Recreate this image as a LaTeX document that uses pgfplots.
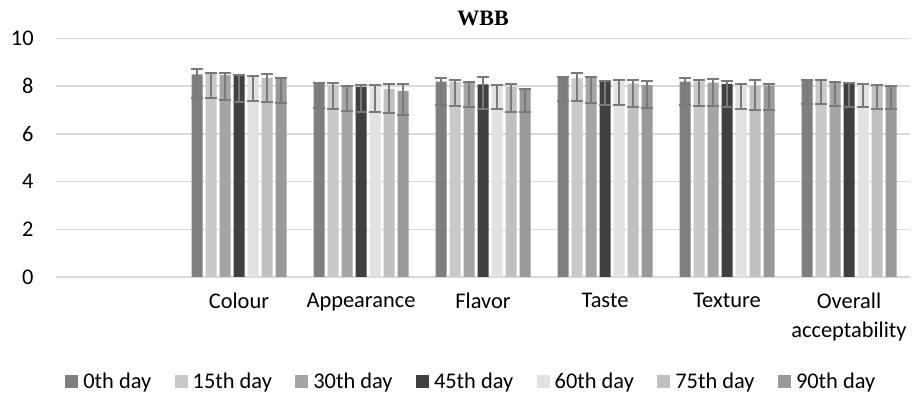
\documentclass[border=0pt]{standalone}
\usepackage{fontspec}
\setmainfont{Carlito}
\newfontfamily\titlefont{Liberation Serif}
\usepackage{pgfplots}
\usepackage{pgfplotstable}
\pgfplotsset{compat=1.18}
\definecolor{cA}{HTML}{7F7F7F}
\definecolor{cB}{HTML}{C9C9C9}
\definecolor{cC}{HTML}{A5A5A5}
\definecolor{cD}{HTML}{404040}
\definecolor{cE}{HTML}{E2E2E2}
\definecolor{cF}{HTML}{BFC1BF}
\definecolor{cG}{HTML}{999999}
\definecolor{errc}{HTML}{7A7A7A}
\definecolor{gridc}{HTML}{D9D9D9}
% x: 1 Colour, 2 Appearance, 3 Flavor, 4 Taste, 5 Texture, 6 Overall acceptability
\pgfplotstableread{
x y ep em
1 8.50 0.22 1.00
2 8.10 0.02 1.00
3 8.19 0.16 0.97
4 8.40 0.00 1.02
5 8.19 0.14 0.97
6 8.26 0.00 1.00
}\dA
\pgfplotstableread{
x y ep em
1 8.54 0.02 1.03
2 8.05 0.10 1.01
3 8.18 0.08 0.99
4 8.33 0.24 0.97
5 8.20 0.06 1.02
6 8.24 0.00 0.99
}\dB
\pgfplotstableread{
x y ep em
1 8.46 0.10 1.02
2 8.01 0.00 1.05
3 8.15 0.03 1.04
4 8.40 0.00 1.09
5 8.15 0.14 1.00
6 8.19 0.00 1.01
}\dC
\pgfplotstableread{
x y ep em
1 8.45 0.00 1.10
2 7.97 0.08 1.05
3 8.08 0.31 1.02
4 8.23 0.00 1.03
5 8.10 0.11 0.99
6 8.13 0.00 1.01
}\dD
\pgfplotstableread{
x y ep em
1 8.40 0.04 1.02
2 7.95 0.08 1.05
3 8.00 0.03 0.96
4 8.20 0.06 0.98
5 8.05 0.03 0.99
6 8.10 0.00 0.99
}\dE
\pgfplotstableread{
x y ep em
1 8.35 0.18 1.01
2 7.89 0.19 1.00
3 7.96 0.14 1.03
4 8.11 0.17 0.99
5 8.01 0.24 0.99
6 8.05 0.00 0.99
}\dF
\pgfplotstableread{
x y ep em
1 8.36 0.00 1.05
2 7.80 0.31 1.00
3 7.90 0.00 1.00
4 8.05 0.16 0.97
5 8.02 0.08 1.02
6 8.01 0.00 0.97
}\dG
\newcommand{\lblfont}{\fontsize{11.2}{14.5}\selectfont}
\newcommand{\ttlfont}{\titlefont\bfseries\fontsize{11}{13}\selectfont}
\begin{document}
\begin{tikzpicture}
\begin{axis}[
  name=ax,
  at={(0,0)}, anchor=south west,
  scale only axis,
  width=427pt, height=119.25pt,
  xmin=-0.5, xmax=6.5,
  ymin=0, ymax=10,
  ytick={0,2,4,6,8,10},
  xtick={1,2,3,4,5,6},
  xticklabels={Colour,Appearance,Flavor,Taste,Texture,{Overall\\acceptability}},
  major tick length=0pt,
  axis line style={draw=none},
  ymajorgrids,
  grid style={color=gridc, line width=0.75pt},
  /pgf/number format/assume math mode=true,
  yticklabel style={font=\lblfont, anchor=east, inner sep=0pt, xshift=-11pt},
  xticklabel style={font=\lblfont, align=center, anchor=north, inner sep=0pt, yshift=-8pt},
  every axis title/.style={at={(0.5,1)}, anchor=center, inner sep=0pt, yshift=10pt},
  title={\ttlfont WBB},
  ybar=1.5pt,
  bar width=5.5pt,
  legend columns=7,
  legend style={
    at={(0.0105,-0.44)}, anchor=west,
    draw=none, inner sep=0pt, font=\lblfont,
    /tikz/every odd column/.append style={column sep=0pt},
    /tikz/every even column/.append style={column sep=9.2pt},
    nodes={inner xsep=2.5pt, inner ysep=0pt},
  },
  legend image code/.code={\fill[#1] (0pt,-3.25pt) rectangle (6.5pt,3.25pt);},
  error bars/error bar style={color=errc, line width=1pt},
  error bars/error mark options={rotate=90, mark size=3pt, line width=1pt, color=errc},
]
\addplot[fill=cA, draw=none, error bars/.cd, y dir=both, y explicit] table[x=x, y=y, y error plus=ep, y error minus=em] {\dA};
\addplot[fill=cB, draw=none, error bars/.cd, y dir=both, y explicit] table[x=x, y=y, y error plus=ep, y error minus=em] {\dB};
\addplot[fill=cC, draw=none, error bars/.cd, y dir=both, y explicit] table[x=x, y=y, y error plus=ep, y error minus=em] {\dC};
\addplot[fill=cD, draw=none, error bars/.cd, y dir=both, y explicit] table[x=x, y=y, y error plus=ep, y error minus=em] {\dD};
\addplot[fill=cE, draw=none, error bars/.cd, y dir=both, y explicit] table[x=x, y=y, y error plus=ep, y error minus=em] {\dE};
\addplot[fill=cF, draw=none, error bars/.cd, y dir=both, y explicit] table[x=x, y=y, y error plus=ep, y error minus=em] {\dF};
\addplot[fill=cG, draw=none, error bars/.cd, y dir=both, y explicit] table[x=x, y=y, y error plus=ep, y error minus=em] {\dG};
\legend{0th day,15th day,30th day,45th day,60th day,75th day,90th day}
\end{axis}
\pgfresetboundingbox
\path ([xshift=-28pt,yshift=-61pt]ax.south west) rectangle ([xshift=4.5pt,yshift=19.25pt]ax.north east);
\end{tikzpicture}
\end{document}
